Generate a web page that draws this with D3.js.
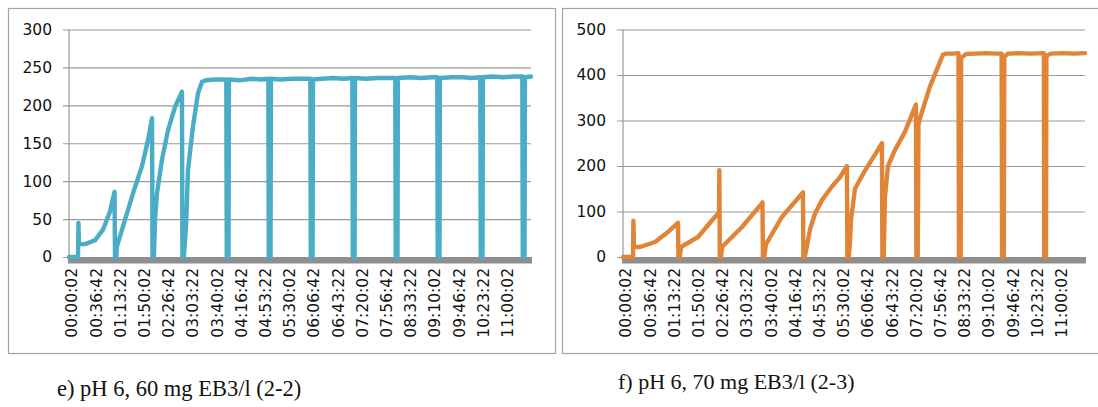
<!DOCTYPE html>
<html>
<head>
<meta charset="utf-8">
<script src="https://cdn.jsdelivr.net/npm/d3@7/dist/d3.min.js"></script>
<style>
  html, body { margin: 0; padding: 0; background: #fff; }
  svg { display: block; }
</style>
</head>
<body>
<svg id="chart" width="1098" height="407"></svg>
<script>
// Category labels along the time axis (elapsed time, hh:mm:ss)
const timeLabels = ["00:00:02","00:36:42","01:13:22","01:50:02","02:26:42","03:03:22",
  "03:40:02","04:16:42","04:53:22","05:30:02","06:06:42","06:43:22","07:20:02",
  "07:56:42","08:33:22","09:10:02","09:46:42","10:23:22","11:00:02"];

const ticksE = [0, 50, 100, 150, 200, 250, 300];
const ticksF = [0, 100, 200, 300, 400, 500];

// e) pH 6, 60 mg EB3/l — elapsed seconds and measured value
const secondsE = [0, 820, 860, 900, 1450, 2360, 3090, 3730, 4140, 4180, 4300, 4360,
  5090, 5820, 6640, 7180, 7550, 7590, 7720, 7820, 8000, 8450, 9000, 9640, 10270,
  10310, 10440, 10640, 10820, 11270, 11730, 12090, 12450, 13300, 14300, 14340, 14500,
  14540, 15500, 16600, 17500, 18120, 18160, 18320, 18360, 19200, 20300, 21200, 21940,
  21980, 22140, 22180, 23000, 24000, 25000, 25760, 25800, 25960, 26000, 27000, 28000,
  29000, 29660, 29700, 29860, 29900, 31000, 32000, 33000, 33480, 33520, 33680, 33720,
  34800, 35800, 36600, 37390, 37430, 37590, 37630, 38500, 39500, 40400, 41210, 41250,
  41410, 41450, 42000];
const valuesE = [0, 0, 45, 17, 17, 22, 36, 60, 86, 0, 0, 14,
  49, 84, 120, 154, 183, 0, 0, 50, 84, 128, 167, 198, 218,
  0, 0, 40, 115, 172, 216, 231, 233, 234, 234, 0, 0,
  234, 233, 235, 234, 235, 0, 0, 235, 234, 235, 235, 235,
  0, 0, 234, 235, 236, 235, 236, 0, 0, 236, 235, 236,
  236, 236, 0, 0, 236, 237, 236, 237, 237, 0, 0, 236,
  237, 237, 236, 237, 0, 0, 237, 238, 237, 238, 238, 0,
  0, 237, 238];

// f) pH 6, 70 mg EB3/l — elapsed seconds and measured value
const secondsF = [0, 910, 945, 1000, 1550, 2910, 4090, 5000, 5040, 5160, 5270, 6820,
  8360, 8730, 8760, 8800, 8910, 9000, 10820, 12630, 12680, 12720, 12840, 13000, 14450,
  16360, 16400, 16520, 16730, 17000, 17450, 18090, 19000, 19720, 20360, 20400, 20520,
  20630, 20720, 21090, 22000, 22910, 23540, 23580, 23700, 23810, 24090, 24720, 25630,
  26630, 26670, 26790, 26860, 27000, 27910, 29090, 29360, 30000, 30500, 30540, 30700,
  30740, 31200, 32000, 33000, 34000, 34420, 34460, 34620, 34660, 35000, 36000, 37000,
  38200, 38260, 38290, 38450, 38490, 38900, 40000, 41000, 42000];
const valuesF = [0, 0, 80, 22, 22, 33, 55, 75, 0, 0, 22, 44,
  88, 98, 191, 0, 0, 22, 66, 118, 120, 0, 0, 28, 88,
  142, 0, 0, 25, 60, 95, 125, 155, 175, 200, 0, 0,
  30, 80, 150, 190, 225, 250, 0, 0, 130, 200, 235, 275,
  335, 0, 0, 290, 305, 375, 445, 447, 447, 448, 0, 0,
  438, 446, 447, 448, 447, 447, 0, 0, 440, 447, 448, 447,
  448, 448, 0, 0, 442, 447, 448, 447, 448];

const svg = d3.select("#chart");

function parseClock(s) {
  const [h, m, sec] = s.split(":").map(Number);
  return h * 3600 + m * 60 + sec;
}

function drawPanel(opts) {
  const g = svg.append("g");

  // outer frame of the chart object
  g.append("rect")
    .attr("x", opts.frame[0] + 0.5).attr("y", opts.frame[1] + 0.5)
    .attr("width", opts.frame[2]).attr("height", opts.frame[3])
    .attr("fill", "#fff").attr("stroke", "#a3a3a3").attr("stroke-width", 1.2);

  const x = d3.scaleLinear().domain([0, 42000]).range([opts.left, opts.right]);
  const y = d3.scaleLinear().domain([0, opts.ticks[opts.ticks.length - 1]])
    .range([opts.bottom, opts.top]);

  // horizontal gridlines + y axis
  const yAxis = d3.axisLeft(y).tickValues(opts.ticks)
    .tickSize(-(opts.right - opts.left)).tickPadding(17);
  const ya = g.append("g").attr("transform", `translate(${opts.left},0)`).call(yAxis);
  ya.select(".domain").remove();
  ya.selectAll(".tick line").attr("stroke", "#9a9a9a").attr("stroke-width", 1.2)
    .attr("x1", -6);
  ya.selectAll(".tick text")
    .attr("font-family", "DejaVu Sans, Verdana, sans-serif")
    .attr("font-size", "15.5px").attr("fill", "#111");

  // vertical value axis line
  g.append("line")
    .attr("x1", opts.left).attr("x2", opts.left)
    .attr("y1", opts.top).attr("y2", opts.bottom)
    .attr("stroke", "#9a9a9a").attr("stroke-width", 1.2);

  // thick base under the zero line
  g.append("rect")
    .attr("x", opts.left - 1).attr("y", opts.bottom)
    .attr("width", opts.right - opts.left + 2).attr("height", 6.5)
    .attr("fill", "#8e8e8e");

  // time labels, rotated
  const xa = g.append("g");
  xa.selectAll("text").data(timeLabels).join("text")
    .attr("transform", d => `translate(${x(parseClock(d)) + 3},${opts.bottom + 11}) rotate(-90)`)
    .attr("text-anchor", "end")
    .attr("dy", "0.35em")
    .attr("font-family", "DejaVu Sans, Verdana, sans-serif")
    .attr("font-size", "15.5px").attr("fill", "#111")
    .text(d => d);

  // data series
  const pts = opts.seconds.map((t, i) => [t, opts.values[i]]);
  const line = d3.line().x(d => x(d[0])).y(d => y(d[1]));
  g.append("path")
    .attr("d", line(pts))
    .attr("fill", "none")
    .attr("stroke", opts.color)
    .attr("stroke-width", 4.4)
    .attr("stroke-linejoin", "round")
    .attr("stroke-linecap", "round");

  // caption beneath the chart
  g.append("text")
    .attr("x", opts.caption[0]).attr("y", opts.caption[1])
    .attr("font-family", "Liberation Serif, Times New Roman, serif")
    .attr("font-size", opts.caption[3]).attr("fill", "#111")
    .text(opts.caption[2]);
}

drawPanel({
  frame: [8, 8, 547, 345],
  left: 69, right: 531, top: 29.5, bottom: 257,
  ticks: ticksE, seconds: secondsE, values: valuesE, color: "#4bacc6",
  caption: [57, 396, "e) pH 6, 60 mg EB3/l (2-2)", "22.5px"]
});

drawPanel({
  frame: [562, 8, 560, 345],
  left: 623, right: 1085, top: 29.5, bottom: 257,
  ticks: ticksF, seconds: secondsF, values: valuesF, color: "#e08538",
  caption: [618, 389, "f) pH 6, 70 mg EB3/l (2-3)", "22px"]
});
</script>
</body>
</html>
